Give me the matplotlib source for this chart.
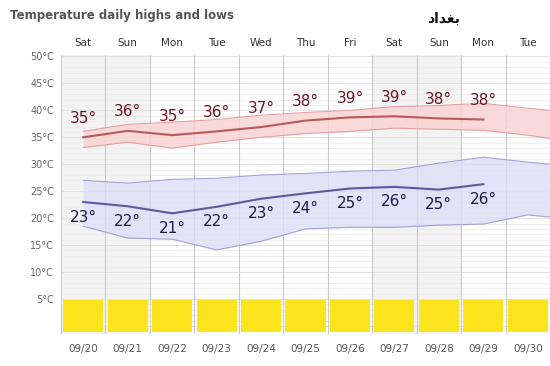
import matplotlib
matplotlib.use('Agg')
import matplotlib.pyplot as plt
import numpy as np

# days shown (one column each)
days = ['Sat', 'Sun', 'Mon', 'Tue', 'Wed', 'Thu', 'Fri', 'Sat', 'Sun', 'Mon', 'Tue']
dates = ['09/20', '09/21', '09/22', '09/23', '09/24', '09/25', '09/26', '09/27', '09/28', '09/29', '09/30']
weekend = [0, 1, 7, 8]

# mean highs / lows (the drawn lines) and rounded labels
high_mean = [35.0, 36.2, 35.4, 36.1, 36.9, 38.1, 38.7, 38.9, 38.5, 38.3]
low_mean = [23.0, 22.2, 20.9, 22.1, 23.6, 24.6, 25.5, 25.8, 25.3, 26.3]
high_lbl = [35, 36, 35, 36, 37, 38, 39, 39, 38, 38]
low_lbl = [23, 22, 21, 22, 23, 24, 25, 26, 25, 26]

# ranges (bands), one extra day (10/01) that is cut by the right edge
high_top = [36.1, 37.4, 37.8, 38.3, 39.1, 39.6, 40.0, 40.7, 40.9, 41.3, 40.4, 39.6]
high_bot = [33.1, 34.1, 33.0, 34.1, 35.0, 35.7, 36.1, 36.7, 36.5, 36.3, 35.4, 34.2]
low_top = [27.0, 26.5, 27.2, 27.4, 28.0, 28.3, 28.7, 28.9, 30.2, 31.3, 30.4, 29.6]
low_bot = [18.5, 16.3, 16.1, 14.1, 15.7, 18.0, 18.3, 18.3, 18.7, 18.9, 20.6, 19.8]

# yellow strip at the bottom (same for every day)
strip = [1] * 11

fig = plt.figure(figsize=(5.5, 3.66), dpi=100)
ax = fig.add_axes([61/550, 1 - 334/366, 1 - 61/550, 278.6/366])

x = np.arange(len(days))
xb = np.arange(len(high_top))

# background: weekend columns, grid
for i in weekend:
    ax.axvspan(i - 0.5, i + 0.5, color='#f3f3f3', zorder=0, lw=0)
for v in np.arange(0, 51, 1):
    ax.axhline(v, color='#eeeeee', lw=0.6, zorder=0.5)
for v in np.arange(0, 51, 5):
    ax.axhline(v, color='#e2e2e2', lw=0.7, zorder=0.6)
for b in np.arange(-0.5, len(days), 1):
    ax.axvline(b, color='#c9c9c9', lw=0.8, zorder=0.7)

# high band
ax.fill_between(xb, high_bot, high_top, color='#f9d3d3', alpha=0.85, lw=0, zorder=1)
ax.plot(xb, high_top, color='#e6a0a0', lw=0.8, zorder=2)
ax.plot(xb, high_bot, color='#e6a0a0', lw=0.8, zorder=2)
ax.plot(x[:len(high_mean)], high_mean, color='#b65a5e', lw=1.5, zorder=3)

# low band
ax.fill_between(xb, low_bot, low_top, color='#dedef7', alpha=0.8, lw=0, zorder=1)
ax.plot(xb, low_top, color='#a2a2d6', lw=0.8, zorder=2)
ax.plot(xb, low_bot, color='#a2a2d6', lw=0.8, zorder=2)
ax.plot(x[:len(low_mean)], low_mean, color='#5a5a9e', lw=1.5, zorder=3)

for i in range(len(high_lbl)):
    ax.text(i, high_mean[i] + 3.5, '%d°' % high_lbl[i], ha='center', va='center',
            fontsize=11, color='#6e1422', zorder=4)
    ax.text(i, low_mean[i] - 2.8, '%d°' % low_lbl[i], ha='center', va='center',
            fontsize=11, color='#1c1c4c', zorder=4)

# yellow strip
ax.bar(x, [s * 5.9 for s in strip], width=0.9, bottom=-1.1, color='#fbe41c', zorder=3)

ax.set_xlim(-0.5, len(days) - 0.5)
ax.set_ylim(-1.5, 50.2)
ax.set_yticks(np.arange(5, 51, 5))
ax.set_yticklabels(['%d°C' % v for v in np.arange(5, 51, 5)])
ax.tick_params(axis='y', length=0, labelsize=7, labelcolor='#666666', pad=5)
ax.set_xticks(x)
ax.set_xticklabels(dates)
ax.tick_params(axis='x', length=0, labelsize=7.5, labelcolor='#555555', pad=7)
for s in ax.spines.values():
    s.set_visible(False)

# day names on top
for i, d in enumerate(days):
    ax.text(i, 1.025, d, transform=ax.get_xaxis_transform(), ha='center', va='bottom',
            fontsize=7.5, color='#333333')

fig.text(10/550, 1 - 16/366, 'Temperature daily highs and lows', ha='left', va='center',
         fontsize=8.5, fontweight='bold', color='#555555')
# Baghdad, written in presentation forms so the letters join (no text shaping in matplotlib)
fig.text(444/550, 1 - 19/366, '\ufea9\ufe8d\ufeaa\ufed0\ufe91', ha='center', va='center',
         fontsize=10, fontweight='bold', color='#111111')

fig.savefig('out.png', dpi=100)
